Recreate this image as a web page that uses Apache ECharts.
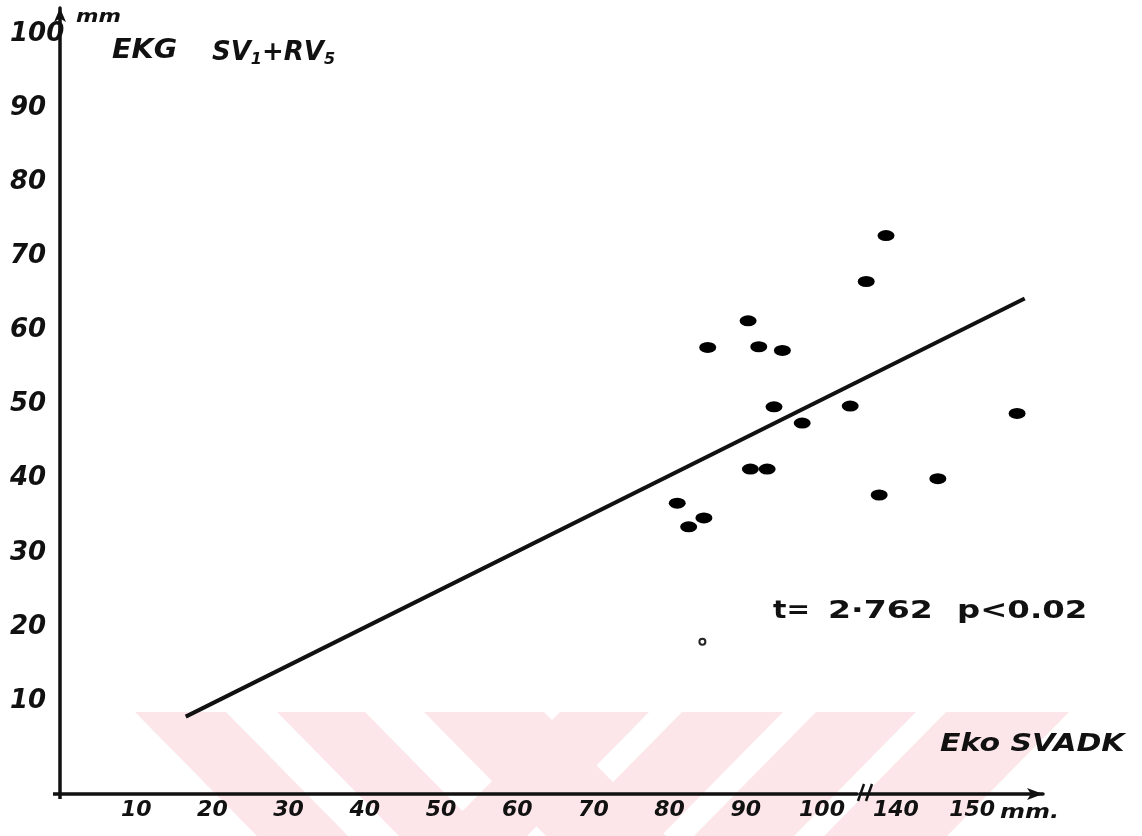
<!DOCTYPE html>
<html>
<head>
<meta charset="utf-8">
<title>EKG SV1+RV5 / Eko SVADK</title>
<script src="https://cdn.jsdelivr.net/npm/echarts@6/dist/echarts.min.js"></script>
<style>
  html, body { margin: 0; padding: 0; background: #ffffff; }
  #chart { width: 1142px; height: 836px; }
</style>
</head>
<body>
<div id="chart"></div>
<script>
// Echo measurement (mm) on x, ECG voltage SV1+RV5 (mm) on y
const svadk = [81, 82.5, 84.5, 85, 90.3, 90.6, 91.7, 92.8, 93.7, 94.8, 97.4, 103.7, 136.1, 137.8, 138.7, 145.5, 155.9];
const ekg   = [36.7, 33.5, 34.7, 57.7, 61.3, 41.3, 57.8, 41.3, 49.7, 57.3, 47.5, 49.8, 66.6, 37.8, 72.8, 40.0, 48.8];

// faint extra dot below the cluster
const faintX = [84.3];
const faintY = [18.0];

// regression line end points
const fitX = [16.5, 156.9];
const fitY = [7.9, 64.3];

// tick labels
const xTicks = [10, 20, 30, 40, 50, 60, 70, 80, 90, 100, 140, 150];
const yTicks = [10, 20, 30, 40, 50, 60, 70, 80, 90, 100];

// the x axis skips the range between these values
const xBreakStart = 104.5;
const xBreakEnd = 135.3;

const statT = 't=';
const statValue = '2·762';
const statP = 'p<0.02';

const hand = '"DejaVu Sans", "Noto Sans", sans-serif';
const ink = '#111111';

const points = svadk.map((x, i) => [x, ekg[i]]);
const faint = faintX.map((x, i) => [x, faintY[i]]);
const fit = fitX.map((x, i) => [x, fitY[i]]);

// light pink diagonal bands along the bottom edge
const pink = '#fce6ea';
const bandTop = 712, bandBottom = 836, slant = 122;
const backBands = [[135, 226], [277, 365], [424, 544]];
const fwdBands = [[560, 649], [682, 783], [816, 916], [946, 1069]];
const bandShapes = [];
backBands.forEach(([a, b]) => bandShapes.push({
  type: 'polygon', silent: true, z: -10,
  shape: { points: [[a, bandTop], [b, bandTop], [b + slant, bandBottom], [a + slant, bandBottom]] },
  style: { fill: pink }
}));
fwdBands.forEach(([a, b]) => bandShapes.push({
  type: 'polygon', silent: true, z: -10,
  shape: { points: [[a, bandTop], [b, bandTop], [b - slant, bandBottom], [a - slant, bandBottom]] },
  style: { fill: pink }
}));

const chart = echarts.init(document.getElementById('chart'), null, { renderer: 'canvas' });

chart.setOption({
  animation: false,
  backgroundColor: '#ffffff',
  grid: { left: 60, right: 99, top: 8, bottom: 42, containLabel: false },
  xAxis: {
    type: 'value',
    min: 0,
    max: 159.3,
    breaks: [{ start: xBreakStart, end: xBreakEnd, gap: 0.5 }],
    breakArea: { show: false, itemStyle: { opacity: 0 } },
    axisLine: {
      show: true,
      onZero: false,
      symbol: ['none', 'arrow'],
      symbolSize: [9, 16],
      lineStyle: { color: ink, width: 3.5 }
    },
    axisTick: { show: false },
    splitLine: { show: false },
    axisLabel: {
      customValues: xTicks,
      margin: 5,
      color: ink,
      fontFamily: hand,
      fontStyle: 'italic',
      fontWeight: 'bold',
      fontSize: 22
    }
  },
  yAxis: {
    type: 'value',
    min: -2.54,
    max: 103.5,
    axisLine: {
      show: true,
      onZero: false,
      symbol: ['none', 'arrow'],
      symbolSize: [9, 14],
      lineStyle: { color: ink, width: 3.5 }
    },
    axisTick: { show: false },
    splitLine: { show: false },
    axisLabel: {
      customValues: yTicks,
      margin: 50,
      align: 'left',
      color: ink,
      fontFamily: hand,
      fontStyle: 'italic',
      fontWeight: 'bold',
      fontSize: 26
    }
  },
  series: [
    {
      type: 'line',
      data: fit,
      symbol: 'none',
      lineStyle: { color: ink, width: 4 },
      z: 3
    },
    {
      type: 'scatter',
      data: points,
      symbol: 'circle',
      symbolSize: [17, 11],
      itemStyle: { color: '#000000', opacity: 1 },
      z: 4
    },
    {
      type: 'scatter',
      data: faint,
      symbol: 'circle',
      symbolSize: 6,
      itemStyle: { color: '#ffffff', borderColor: '#222222', borderWidth: 2, opacity: 1 },
      z: 4
    }
  ],
  graphic: [
    ...bandShapes,
    // short overhangs where the two axes meet
    { type: 'line', shape: { x1: 53, y1: 794, x2: 60, y2: 794 }, style: { stroke: ink, lineWidth: 3.5 } },
    { type: 'line', shape: { x1: 60, y1: 794, x2: 60, y2: 799 }, style: { stroke: ink, lineWidth: 3.5 } },
    // y axis unit and title
    { type: 'text', x: 76, y: 8, scaleX: 1.2,
      style: { text: 'mm', font: 'italic bold 18px ' + hand, fill: ink } },
    { type: 'text', x: 112, y: 38, scaleX: 1.1,
      style: { text: 'EKG', font: 'italic bold 26px ' + hand, fill: ink } },
    { type: 'text', x: 212, y: 38, scaleX: 1.0,
      style: {
        text: '{m|SV}{s|1}{m|+RV}{s|5}',
        rich: {
          m: { font: 'italic bold 26px ' + hand, fill: ink, color: ink },
          s: { font: 'italic bold 16px ' + hand, fill: ink, color: ink, padding: [14, 0, 0, 0] }
        }
      } },
    // x axis title and unit
    { type: 'text', x: 940, y: 732, scaleX: 1.2,
      style: { text: 'Eko SVADK', font: 'italic bold 25px ' + hand, fill: ink } },
    { type: 'text', x: 1000, y: 803, scaleX: 1.2,
      style: { text: 'mm.', font: 'italic bold 20px ' + hand, fill: ink } },
    // break marks on the x axis
    { type: 'line', shape: { x1: 858, y1: 801, x2: 864, y2: 784 }, style: { stroke: ink, lineWidth: 2.5 } },
    { type: 'line', shape: { x1: 866, y1: 801, x2: 872, y2: 784 }, style: { stroke: ink, lineWidth: 2.5 } },
    // t-test result
    { type: 'text', x: 773, y: 600, scaleX: 1.17,
      style: { text: statT, font: 'bold 24px ' + hand, fill: ink } },
    { type: 'text', x: 828, y: 600, scaleX: 1.38,
      style: { text: statValue, font: 'bold 24px ' + hand, fill: ink } },
    { type: 'text', x: 957, y: 600, scaleX: 1.35,
      style: { text: statP, font: 'bold 24px ' + hand, fill: ink } }
  ]
});
</script>
</body>
</html>
